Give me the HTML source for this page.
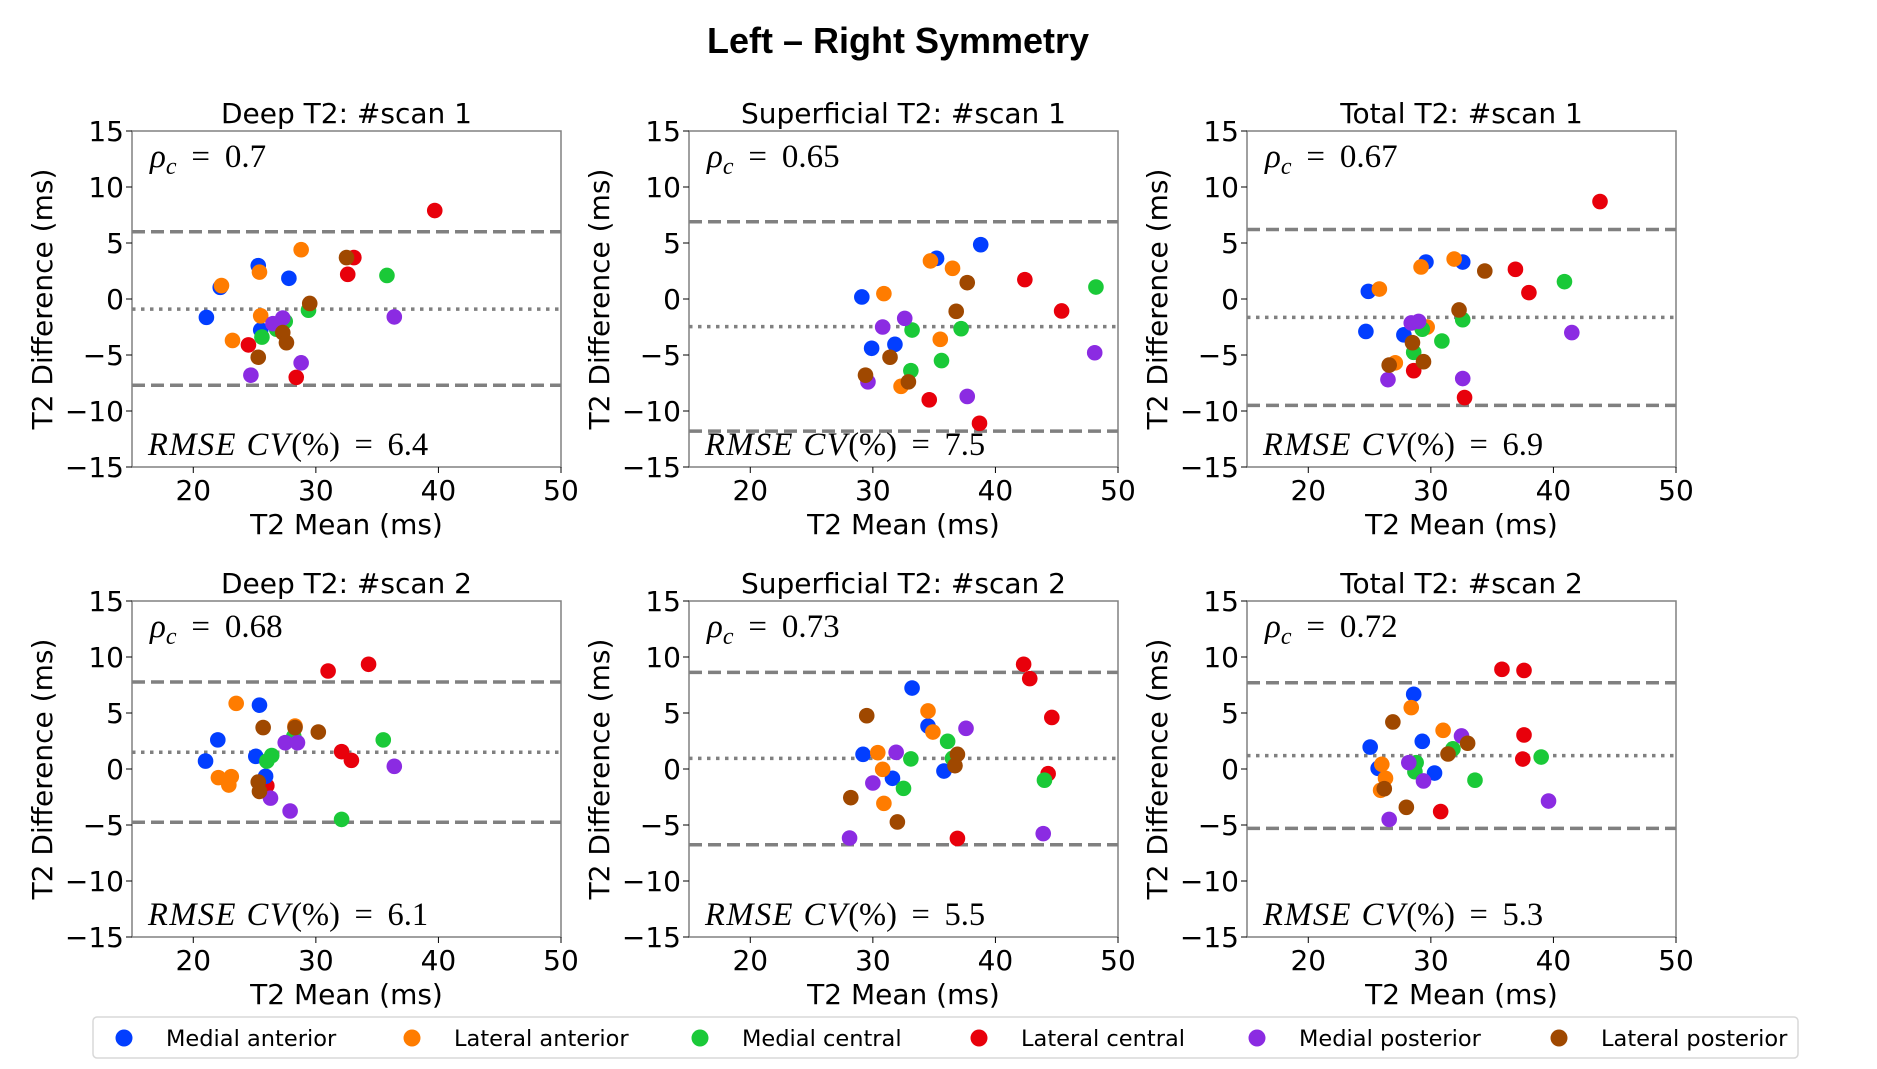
<!DOCTYPE html>
<html>
<head>
<meta charset="utf-8">
<style>
html,body{margin:0;padding:0;background:#fff;}
body{width:1877px;height:1069px;overflow:hidden;position:relative;font-family:"DejaVu Sans","Liberation Sans",sans-serif;}
svg{position:absolute;left:0;top:0;}
</style>
</head>
<body>
<svg id="chart" width="1877" height="1069" viewBox="0 0 1877 1069" xmlns="http://www.w3.org/2000/svg">
  <text x="898" y="53" text-anchor="middle" font-family="Liberation Sans, sans-serif" font-weight="bold" font-size="36" fill="#000">Left – Right Symmetry</text>
  <g id="panels"></g>
  <g id="legend"></g>
</svg>
<script>
// ---- data ----
const groupNames = ["Medial anterior","Lateral anterior","Medial central","Lateral central","Medial posterior","Lateral posterior"];
const groupColors = ["#023eff","#ff7c00","#1ac938","#e8000b","#8b2be2","#9f4800"];
const panelTitles = ["Deep T2: #scan 1","Superficial T2: #scan 1","Total T2: #scan 1","Deep T2: #scan 2","Superficial T2: #scan 2","Total T2: #scan 2"];
const rhoValues = ["0.7","0.65","0.67","0.68","0.73","0.72"];
const rmseValues = ["6.4","7.5","6.9","6.1","5.5","5.3"];
const meanLines = [-0.9,-2.47,-1.64,1.49,0.95,1.19];
const upperLines = [6.0,6.9,6.2,7.77,8.63,7.7];
const lowerLines = [-7.7,-11.8,-9.5,-4.76,-6.76,-5.3];
const xTicks = [20,30,40,50];
const yTicks = [-15,-10,-5,0,5,10,15];
// points per panel: [group index, mean, difference]
const p1 = [[0,21.07,-1.64],[0,22.2,1.04],[0,25.3,2.98],[0,27.8,1.85],[0,25.5,-2.77],
 [1,22.3,1.2],[1,25.4,2.4],[1,28.8,4.4],[1,25.5,-1.5],[1,23.2,-3.7],
 [2,35.8,2.1],[2,29.4,-1.0],[2,27.5,-2.0],[2,25.6,-3.4],[2,26.8,-2.7],
 [3,39.7,7.9],[3,33.1,3.7],[3,32.6,2.2],[3,24.5,-4.1],[3,28.4,-7.0],
 [4,36.4,-1.6],[4,27.3,-1.7],[4,26.5,-2.2],[4,28.8,-5.7],[4,24.7,-6.8],
 [5,32.5,3.7],[5,29.5,-0.4],[5,27.3,-3.0],[5,27.6,-3.9],[5,25.3,-5.2]];
const p2 = [[0,38.8,4.85],[0,35.2,3.63],[0,29.1,0.18],[0,29.9,-4.4],[0,31.8,-4.05],
 [1,34.7,3.4],[1,36.5,2.74],[1,30.9,0.48],[1,35.5,-3.6],[1,32.3,-7.8],
 [2,48.2,1.07],[2,33.2,-2.77],[2,37.2,-2.65],[2,35.6,-5.5],[2,33.1,-6.4],
 [3,42.4,1.73],[3,45.4,-1.07],[3,34.6,-9.0],[3,38.7,-11.1],
 [4,32.6,-1.73],[4,30.8,-2.5],[4,48.1,-4.8],[4,29.6,-7.4],[4,37.7,-8.7],
 [5,37.7,1.46],[5,36.8,-1.1],[5,31.4,-5.2],[5,29.4,-6.8],[5,32.9,-7.4]];
const p3 = [[3,43.8,8.7],[3,36.9,2.65],[3,38.0,0.57],[3,28.6,-6.4],[3,32.75,-8.8],
 [0,24.9,0.68],[0,29.6,3.3],[0,32.6,3.3],[0,24.7,-2.9],[0,27.8,-3.2],
 [1,25.8,0.89],[1,29.2,2.86],[1,31.9,3.57],[1,29.7,-2.5],[1,27.1,-5.7],
 [2,40.9,1.55],[2,32.6,-1.85],[2,29.3,-2.7],[2,30.9,-3.75],[2,28.6,-4.76],
 [4,41.5,-3.0],[4,28.4,-2.14],[4,29.0,-2.0],[4,32.6,-7.1],[4,26.5,-7.2],
 [5,34.4,2.5],[5,32.3,-0.98],[5,28.5,-3.9],[5,29.4,-5.6],[5,26.6,-5.9]];
const p4 = [[3,31.0,8.75],[3,34.3,9.35],[3,32.1,1.55],[3,32.9,0.77],[3,26.0,-1.5],
 [0,25.4,5.7],[0,22.0,2.6],[0,21.0,0.71],[0,25.1,1.13],[0,25.9,-0.65],
 [1,23.5,5.86],[1,28.3,3.84],[1,22.05,-0.77],[1,23.1,-0.68],[1,22.9,-1.43],
 [2,35.5,2.6],[2,28.2,2.9],[2,26.4,1.2],[2,26.0,0.7],[2,32.1,-4.5],
 [4,36.4,0.24],[4,27.5,2.35],[4,28.5,2.35],[4,26.3,-2.6],[4,27.9,-3.75],
 [5,25.7,3.7],[5,30.2,3.3],[5,28.3,3.7],[5,25.3,-1.16],[5,25.4,-2.0]];
const p5 = [[3,42.3,9.35],[3,42.8,8.07],[3,44.6,4.6],[3,44.3,-0.42],[3,36.9,-6.2],
 [0,33.2,7.23],[0,34.5,3.84],[0,29.2,1.31],[0,31.6,-0.83],[0,35.8,-0.18],
 [1,34.5,5.18],[1,34.9,3.3],[1,30.4,1.46],[1,30.8,-0.03],[1,30.9,-3.07],
 [2,36.1,2.47],[2,33.1,0.9],[2,36.5,0.95],[2,32.5,-1.73],[2,44.0,-1.0],
 [4,37.6,3.63],[4,31.9,1.49],[4,30.0,-1.25],[4,28.1,-6.16],[4,43.9,-5.77],
 [5,29.5,4.76],[5,36.9,1.31],[5,36.7,0.3],[5,28.2,-2.56],[5,32.0,-4.73]];
const p6 = [[3,35.8,8.9],[3,37.6,8.8],[3,37.6,3.04],[3,37.5,0.89],[3,30.8,-3.8],
 [0,28.6,6.67],[0,25.05,1.96],[0,29.3,2.47],[0,25.7,0.06],[0,30.3,-0.36],
 [1,28.4,5.48],[1,31.0,3.45],[1,26.0,0.42],[1,26.3,-0.83],[1,25.9,-1.9],
 [2,39.0,1.07],[2,31.8,1.8],[2,28.8,0.57],[2,28.7,-0.24],[2,33.6,-1.0],
 [4,32.5,2.95],[4,28.2,0.57],[4,29.4,-1.07],[4,39.6,-2.86],[4,26.6,-4.5],
 [5,33.0,2.3],[5,31.4,1.34],[5,26.9,4.2],[5,26.2,-1.76],[5,28.0,-3.42]];
const panelPoints = [p1,p2,p3,p4,p5,p6];

// ---- drawing ----
const NS = "http://www.w3.org/2000/svg";
const colLeft = [132,689,1247];
const rowTop = [131,601];
const AW = 429, AH = 336;
const XMIN = 15, XMAX = 50, YMIN = -15, YMAX = 15;
function mk(tag, attrs, parent){ const e=document.createElementNS(NS,tag); for(const k in attrs) e.setAttribute(k,attrs[k]); parent.appendChild(e); return e; }
const panelsG = document.getElementById('panels');

for(let i=0;i<6;i++){
  const L = colLeft[i%3], T = rowTop[Math.floor(i/3)];
  const sx = v => L + (v-XMIN)/(XMAX-XMIN)*AW;
  const sy = v => T + (YMAX-v)/(YMAX-YMIN)*AH;
  const g = mk('g',{},panelsG);
  
  
  const fr = mk('rect',{x:L,y:T,width:AW,height:AH,fill:'#fff',stroke:'#808080','stroke-width':1.5},g);
  
  
  const tt = mk('text',{x:L+AW/2,y:T-8,'text-anchor':'middle','font-size':28,fill:'#000'},g);
  tt.textContent = panelTitles[i];
  
  
  xTicks.forEach(t=>{
    mk('line',{x1:sx(t),x2:sx(t),y1:T+AH,y2:T+AH+6,stroke:'#000','stroke-width':1},g);
    const lb = mk('text',{x:sx(t),y:T+AH+33,'text-anchor':'middle','font-size':28,fill:'#000'},g);
    lb.textContent = t;
    
    
  });
  yTicks.forEach(t=>{
    mk('line',{x1:L-6,x2:L,y1:sy(t),y2:sy(t),stroke:'#000','stroke-width':1},g);
    const lb = mk('text',{x:L-8,y:sy(t)+10,'text-anchor':'end','font-size':28,fill:'#000'},g);
    lb.textContent = (t<0?'\u2212'+Math.abs(t):t);
    
    
  });
  const xl = mk('text',{x:L+AW/2,y:T+AH+67,'text-anchor':'middle','font-size':28,fill:'#000'},g);
  xl.textContent = 'T2 Mean (ms)';
  
  
  const yl = mk('text',{x:0,y:0,'text-anchor':'middle','font-size':28,fill:'#000',transform:`translate(${L-80},${T+AH/2}) rotate(-90)`},g);
  yl.textContent = 'T2 Difference (ms)';
  
  
  const cl = mk('clipPath',{id:'clip'+i},g);
  mk('rect',{x:L,y:T,width:AW,height:AH},cl);
  const lg = mk('g',{'clip-path':`url(#clip${i})`},g);
  const up = mk('line',{x1:L,x2:L+AW,y1:sy(upperLines[i]),y2:sy(upperLines[i]),stroke:'#808080','stroke-width':3.5,'stroke-dasharray':'13 6'},lg);
  
  
  const mn = mk('line',{x1:L,x2:L+AW,y1:sy(meanLines[i]),y2:sy(meanLines[i]),stroke:'#808080','stroke-width':3.5,'stroke-dasharray':'3.5 5.5'},lg);
  
  
  const lo = mk('line',{x1:L,x2:L+AW,y1:sy(lowerLines[i]),y2:sy(lowerLines[i]),stroke:'#808080','stroke-width':3.5,'stroke-dasharray':'13 6'},lg);
  
  
  panelPoints[i].forEach(p=>{
    const c = mk('circle',{cx:sx(p[1]),cy:sy(p[2]),r:7.8,fill:groupColors[p[0]]},lg);
    
    
  });
  const rho = mk('text',{x:L+18,y:T+36,'font-size':33,fill:'#000','font-family':'Liberation Serif, serif'},g);
  rho.innerHTML = '<tspan font-style="italic">ρ</tspan><tspan font-style="italic" font-size="24" dy="7">c</tspan><tspan dy="-7"> \u2009=\u2009 ' + rhoValues[i] + '</tspan>';
  
  
  const rm = mk('text',{x:L+16,y:T+AH-12,'font-size':32.5,fill:'#000','font-family':'Liberation Serif, serif'},g);
  rm.innerHTML = '<tspan font-style="italic" letter-spacing="1.5">RMSE CV</tspan>(%) \u2009=\u2009 ' + rmseValues[i];
  
  
}

// legend
const legG = document.getElementById('legend');
const box = mk('rect',{x:93,y:1017,width:1725,height:41,rx:4,fill:'#fff',stroke:'#d8d8d8','stroke-width':1.5},legG);


box.setAttribute('width','1705');
const legMarkX = [124,412,700,979,1257,1559];
groupNames.forEach((n,k)=>{
  const eg = mk('g',{},legG);
  
  
  mk('circle',{cx:legMarkX[k],cy:1038,r:8.5,fill:groupColors[k]},eg);
  const t = mk('text',{x:legMarkX[k]+42,y:1046,'font-size':22.5,fill:'#000'},eg);
  t.textContent = n;
});
</script>
</body>
</html>
